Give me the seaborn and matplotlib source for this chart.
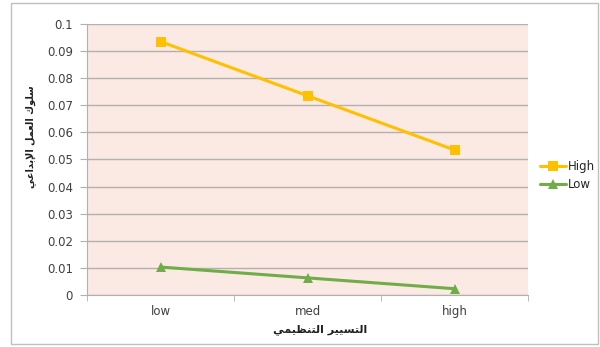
# creative work behaviour by organisational management level
import pandas as pd
import seaborn as sns
import matplotlib.pyplot as plt
from matplotlib.patches import Rectangle
from matplotlib.ticker import FixedLocator, FormatStrFormatter

levels = ['low', 'med', 'high']
high_vals = [0.0935, 0.0735, 0.0535]
low_vals = [0.0103, 0.0063, 0.0023]
series_names = ['High', 'Low']
y_ticks = [0, 0.01, 0.02, 0.03, 0.04, 0.05, 0.06, 0.07, 0.08, 0.09, 0.1]

# arabic labels, pre-shaped (presentation forms) in visual order since matplotlib has no bidi
ylab = ('\uFEF2\uFECB\uFE8D\uFEAA\uFE91\uFEF9\uFE8D' + ' ' +
        '\uFEDE\uFEE4\uFECC\uFEDF\uFE8D' + ' ' +
        '\uFED9\uFEEE\uFEE0\uFEB3')
xlab = ('\uFEF2\uFEE4\uFEF4\uFEC8\uFEE8\uFE98\uFEDF\uFE8D' + ' ' +
        '\uFEAE\uFEF4\uFEF4\uFEB4\uFE98\uFEDF\uFE8D')

df = pd.DataFrame({
    'level': levels * 2,
    'value': high_vals + low_vals,
    'group': [series_names[0]] * 3 + [series_names[1]] * 3,
})

sns.set_style('white')
plt.rcParams['font.family'] = ['DejaVu Sans']

fig = plt.figure(figsize=(6, 3.47), dpi=100)
ax = fig.add_axes([0.145, 0.15, 0.735, 0.781])
fig.patches.append(Rectangle((11 / 600, 3 / 347), 587 / 600, 341 / 347, transform=fig.transFigure,
                             fill=False, edgecolor='#bfbfbf', linewidth=1))

sns.lineplot(data=df, x='level', y='value', hue='group', style='group',
             palette={'High': '#ffc000', 'Low': '#70ad47'},
             markers={'High': 's', 'Low': '^'}, dashes=False,
             markersize=7, markeredgewidth=0, linewidth=2.2, ax=ax)

ax.set_facecolor('#fbe9e4')
ax.set_xlim(-0.5, 2.5)
ax.set_ylim(0, 0.1)
ax.yaxis.set_major_locator(FixedLocator(y_ticks))
ax.yaxis.set_major_formatter(FormatStrFormatter('%g'))
ax.grid(axis='y', color='#b4b0ae', linewidth=1)
ax.set_axisbelow(True)
for s in ['top', 'right']:
    ax.spines[s].set_visible(False)
for s in ['left', 'bottom']:
    ax.spines[s].set_color('#b0b0b0')
ax.tick_params(axis='y', length=5, color='#b0b0b0', labelsize=8.5, labelcolor='#404040', left=True, pad=5)
ax.tick_params(axis='x', length=0, labelsize=8.5, labelcolor='#404040', pad=7)
ax.xaxis.set_minor_locator(FixedLocator([-0.5, 0.5, 1.5, 2.5]))
ax.tick_params(axis='x', which='minor', length=4, color='#b0b0b0', bottom=True)

ax.set_xlabel(xlab, fontsize=8, fontweight='bold', color='#202020')
ax.xaxis.set_label_coords(0.528, -0.129)
ax.xaxis.label.set_va('center')
ax.set_ylabel(ylab, fontsize=7, fontweight='bold', color='#202020')
ax.yaxis.set_label_coords(-0.129, 0.583)
ax.yaxis.label.set_va('center')

ax.legend(loc='center left', bbox_to_anchor=(1.0, 0.44), frameon=False, fontsize=8.5,
          handlelength=2.2, handletextpad=0.2, labelspacing=0.45, borderaxespad=0.6)

fig.savefig('out.png', dpi=100)
